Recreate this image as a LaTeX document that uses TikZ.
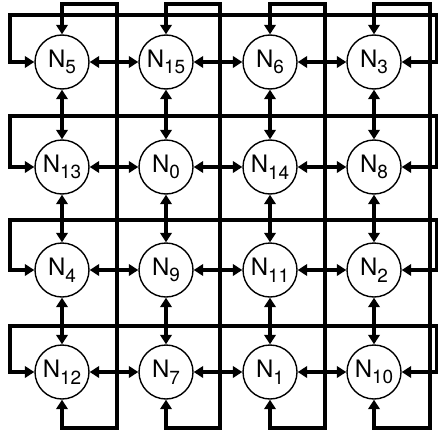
\documentclass[tikz,border=0pt]{standalone}
\usepackage{fontspec}
\setmainfont{TeX Gyre Heros}
\usetikzlibrary{arrows.meta}
\newcommand\nlab[1]{\fontsize{24}{24}\selectfont N\raisebox{-6.5pt}{\fontsize{19}{19}\selectfont #1}}
\begin{document}
\begin{tikzpicture}[x=1pt,y=-1pt,
  nd/.style={circle,draw,line width=1.4pt,minimum size=54pt,inner sep=0pt,fill=white},
  link/.style={line width=4pt,{Triangle[length=9.5pt,width=11.5pt]}-{Triangle[length=9.5pt,width=11.5pt]}},
]
\useasboundingbox (0,0) rectangle (438,436);
% helper coordinates for the wrap-around lines
\coordinate (L) at (10,0);
\coordinate (R) at (437,0);
\coordinate (T) at (0,4);
\coordinate (B) at (0,428);
\coordinate (h1) at (0,15);
\coordinate (h2) at (0,116);
\coordinate (h3) at (0,220);
\coordinate (h4) at (0,326);
\coordinate (v1) at (117,0);
\coordinate (v2) at (220,0);
\coordinate (v3) at (325,0);
\coordinate (v4) at (430,0);
% nodes
\node[nd] (a1) at (62,62)  {\nlab{5}};
\node[nd] (a2) at (166,62) {\nlab{15}};
\node[nd] (a3) at (270,62) {\nlab{6}};
\node[nd] (a4) at (374,62) {\nlab{3}};
\node[nd] (b1) at (62,167)  {\nlab{13}};
\node[nd] (b2) at (166,167) {\nlab{0}};
\node[nd] (b3) at (270,167) {\nlab{14}};
\node[nd] (b4) at (374,167) {\nlab{8}};
\node[nd] (c1) at (62,270)  {\nlab{4}};
\node[nd] (c2) at (166,270) {\nlab{9}};
\node[nd] (c3) at (270,270) {\nlab{11}};
\node[nd] (c4) at (374,270) {\nlab{2}};
\node[nd] (d1) at (62,372)  {\nlab{12}};
\node[nd] (d2) at (166,372) {\nlab{7}};
\node[nd] (d3) at (270,372) {\nlab{1}};
\node[nd] (d4) at (374,372) {\nlab{10}};
% wrap-around rows
\foreach \r/\h in {a/h1,b/h2,c/h3,d/h4}{
  \draw[link] (\r1.west) -- (\r1 -| L) -- (L |- \h) -- (R |- \h) -- (\r4 -| R) -- (\r4.east);
}
% wrap-around columns
\foreach \c in {1,2,3,4}{
  \draw[link] (a\c.north) -- (a\c |- T) -- (v\c |- T) -- (v\c |- B) -- (d\c |- B) -- (d\c.south);
}
% neighbour links
\foreach \r in {a,b,c,d}{
  \draw[link] (\r1) -- (\r2);
  \draw[link] (\r2) -- (\r3);
  \draw[link] (\r3) -- (\r4);
}
\foreach \c in {1,2,3,4}{
  \draw[link] (a\c) -- (b\c);
  \draw[link] (b\c) -- (c\c);
  \draw[link] (c\c) -- (d\c);
}
\end{tikzpicture}
\end{document}
